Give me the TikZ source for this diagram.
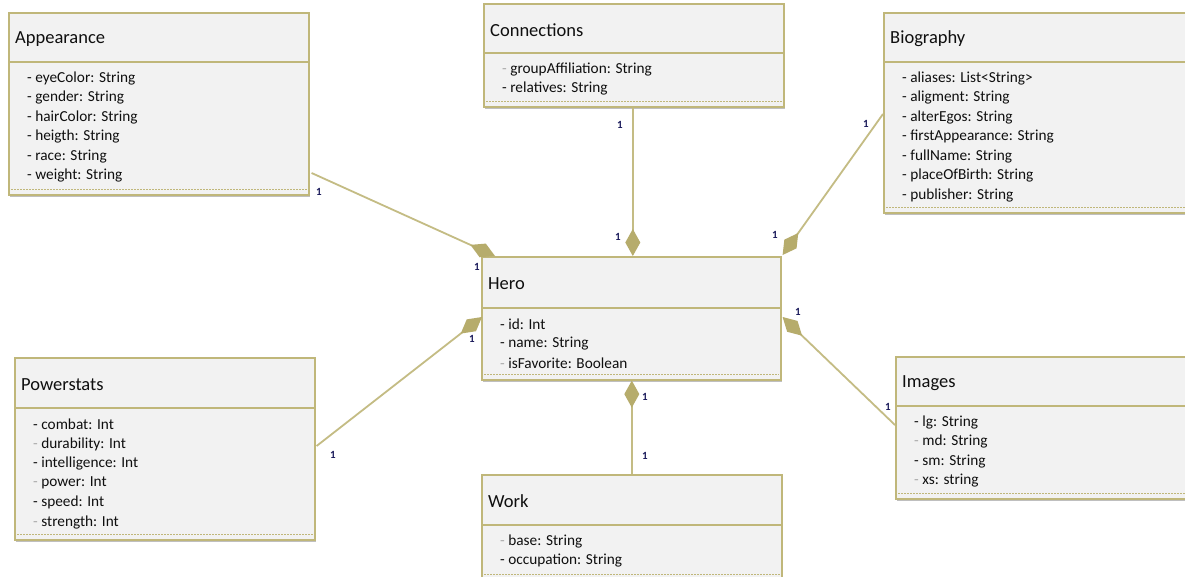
\documentclass[tikz,border=0pt]{standalone}
\usepackage{fontspec}
\setmainfont{Carlito}
\usetikzlibrary{arrows.meta,calc,shadows}
\definecolor{boxc}{RGB}{192,183,122}
\definecolor{linec}{RGB}{196,188,132}
\definecolor{diac}{RGB}{182,172,108}
\definecolor{fillc}{RGB}{242,242,242}
\definecolor{labc}{RGB}{28,28,92}
\definecolor{txtc}{RGB}{15,15,15}
\definecolor{dashg}{RGB}{170,170,170}
\newcommand\bd{\textcolor{txtc}{-}\ }
\newcommand\gd{\textcolor{dashg}{-}\ }
\newcommand\umlclass[8]{%
\node[classbox, minimum width=#4pt, minimum height=#5pt, anchor=north west] (#1) at (#2,#3) {};
\draw[boxline] ($(#1.north west)+(0,#6)$) -- ($(#1.north east)+(0,#6)$);
\draw[dashsep] ($(#1.south west)+(3,-6.5)$) -- ($(#1.south east)+(-3,-6.5)$);
\node[titletext] (#1-title) at ($(#1.north west)+(7,#6/2+2)$) {#7};
\foreach \t [count=\i from 0] in {#8} {\node[attrtext] (#1-a\i) at ($(#1.north west)+(19,#6+16.5+19.5*\i)$) {\t};}
}
\begin{document}
\begin{tikzpicture}[x=1pt,y=-1pt,
  classbox/.style={draw=boxc, fill=fillc, line width=1.6pt, inner sep=0pt,
    drop shadow={shadow xshift=1.5pt, shadow yshift=-2.5pt, opacity=0.25, fill=black}},
  boxline/.style={draw=boxc, line width=1.6pt},
  dashsep/.style={draw=boxc, line width=1.1pt, dash pattern=on 2pt off 1pt},
  titletext/.style={anchor=west, inner sep=0pt, font=\fontsize{18.5}{22}\selectfont, text=txtc},
  attrtext/.style={anchor=west, inner sep=0pt, font=\fontsize{15.3}{18}\selectfont, text=txtc},
  conn/.style={draw=linec, line width=1.8pt, -{Diamond[length=27pt,width=15pt,fill=diac,color=diac]}},
  mult/.style={inner sep=0pt, font=\fontsize{11}{13}\selectfont\bfseries, text=labc}]
\useasboundingbox (0,0) rectangle (1185,577);
\fill[white] (0,0) rectangle (1185,577);

\umlclass{app}{8}{12}{300}{182}{50}{Appearance}{\bd eyeColor: String,\bd gender: String,\bd hairColor: String,\bd heigth: String,\bd race: String,\bd weight: String}
\umlclass{con}{483}{3}{300}{103}{50}{Connections}{\gd groupAffiliation: String,\bd relatives: String}
\umlclass{bio}{883}{12}{304}{200}{50}{Biography}{\bd aliases: List<String>,\bd aligment: String,\bd alterEgos: String,\bd firstAppearance: String,\bd fullName: String,\bd placeOfBirth: String,\bd publisher: String}
\umlclass{hero}{481}{256}{299}{123}{52}{Hero}{\bd id: Int,\bd name: String,\gd isFavorite: Boolean}
\umlclass{pow}{14}{357}{300}{182}{51}{Powerstats}{\bd combat: Int,\gd durability: Int,\bd intelligence: Int,\gd power: Int,\bd speed: Int,\gd strength: Int}
\umlclass{work}{481}{474}{300}{105}{51}{Work}{\gd base: String,\bd occupation: String}
\umlclass{img}{895}{356}{294}{142}{50}{Images}{\bd lg: String,\gd md: String,\bd sm: String,\gd xs: string}

% connection points
\coordinate (a1) at ($(app.north east)+(2,161)$);
\coordinate (h1) at ($(hero.north west)+(14,0)$);
\coordinate (b1) at ($(bio.north west)+(0,102)$);
\coordinate (h3) at ($(hero.north east)+(1,-1)$);
\coordinate (p1) at ($(pow.north east)+(1,89)$);
\coordinate (h4) at ($(hero.north west)+(1,61)$);
\coordinate (i1) at ($(img.north west)+(0,69)$);
\coordinate (h5) at ($(hero.north east)+(1,61)$);

\draw[conn] (a1) -- (h1);
\draw[conn] (con.south) ++(-1,0) -- ($(hero.north)+(1.5,0)$);
\draw[conn] (b1) -- (h3);
\draw[conn] (p1) -- (h4);
\draw[conn] (i1) -- (h5);
\draw[conn] (work.north) -- (work.north |- hero.south);

% multiplicities
\node[mult] (m1) at (319,192) {1};
\node[mult] (m2) at (477,267) {1};
\node[mult] (m3) at (620,125) {1};
\node[mult] (m4) at (618,237) {1};
\node[mult] (m5) at (866,124) {1};
\node[mult] (m6) at (775,235) {1};
\node[mult] (m7) at (333,455) {1};
\node[mult] (m8) at (472,339) {1};
\node[mult] (m9) at (798,312) {1};
\node[mult] (m10) at (888,407) {1};
\node[mult] (m11) at (645,397) {1};
\node[mult] (m12) at (645,456) {1};
\end{tikzpicture}
\end{document}
